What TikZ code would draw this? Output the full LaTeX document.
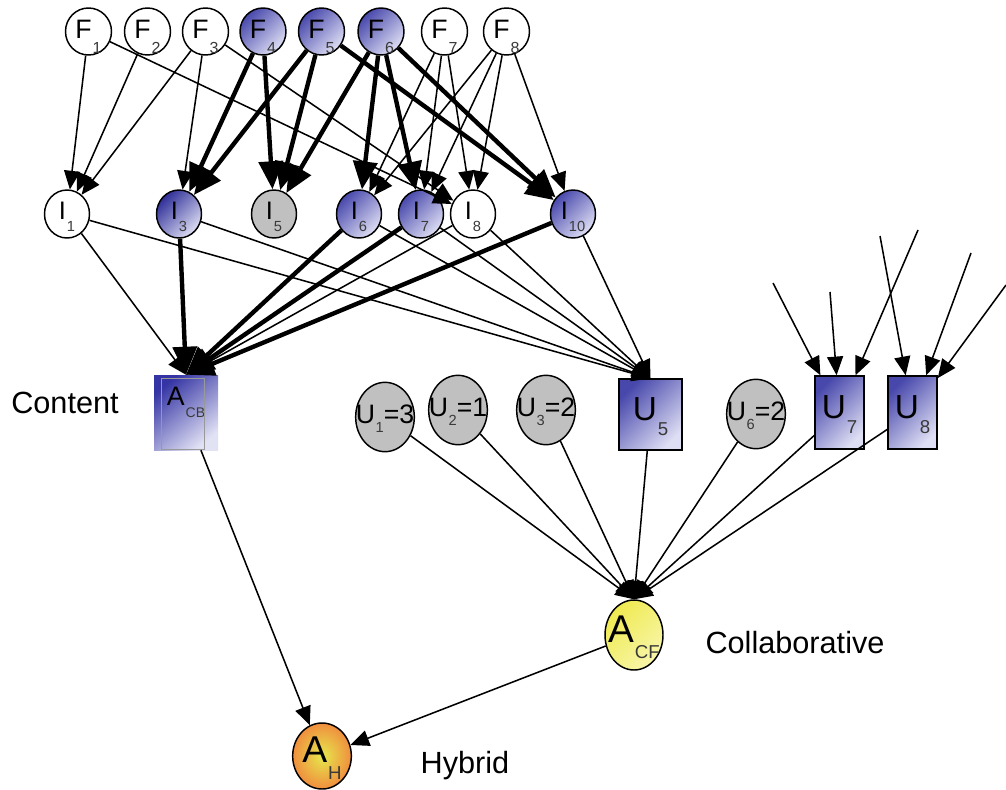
\documentclass[tikz,border=0pt]{standalone}
\usepackage{fontspec}
\setmainfont{Liberation Sans}
\usetikzlibrary{arrows.meta,shapes.geometric}
\definecolor{bdark}{HTML}{4848AC}
\definecolor{bdarker}{HTML}{2E2E98}
\definecolor{blight}{HTML}{DEDEF4}
\definecolor{ngray}{HTML}{C0C0C0}
\definecolor{subg}{HTML}{3A3A3A}
\definecolor{ydark}{HTML}{EFEA50}
\definecolor{ylight}{HTML}{F8F6AA}
\definecolor{oin}{HTML}{E6E84C}
\definecolor{oout}{HTML}{F08E3E}
\definecolor{acbd}{HTML}{3434A4}
\definecolor{acbl}{HTML}{E2E2F5}
\newcommand\nlab[6]{\makebox[0pt]{\raisebox{#6}[\height][\depth]{\fontsize{#1}{#1}\selectfont #4}\kern0.8pt\smash{\raisebox{-#3}{\fontsize{#2}{#2}\selectfont\color{subg}#5}}}}
\newcommand\ulab[3]{\makebox[0pt]{\raisebox{2.25pt}[\height][\depth]{\fontsize{20}{20}\selectfont #1}\kern0.5pt\smash{\raisebox{-4.5pt}{\fontsize{11}{11}\selectfont\color{subg}#2}}\raisebox{2.25pt}[\height][\depth]{\fontsize{20}{20}\selectfont #3}}}
\begin{document}
\begin{tikzpicture}[x=0.75pt,y=-0.75pt,
  base/.style={draw=black,line width=1.1pt,inner sep=0pt},
  fnode/.style={base,ellipse,minimum width=34.5pt,minimum height=35.25pt},
  inode/.style={base,ellipse,minimum width=33.75pt,minimum height=36pt},
  unode/.style={base,ellipse,minimum width=44pt,minimum height=52pt,fill=ngray},
  urect/.style={base,rectangle,minimum width=36.75pt,minimum height=54.75pt},
  wfill/.style={fill=white},
  gfill/.style={fill=ngray},
  bfill/.style={top color=bdark,bottom color=blight,shading angle=45},
  bdfill/.style={top color=bdarker,bottom color=blight,shading angle=45},
  thinarr/.style={line width=1.15pt,-{Triangle[length=14pt,width=12pt]}},
  thickarr/.style={line width=3.3pt,-{Triangle[length=21pt,width=18pt]}},
  lbl/.style={font=\fontsize{23}{23}\selectfont}]
\useasboundingbox (0,0) rectangle (1006,789);

% F row
\node[fnode,wfill] (f1) at (88.5,31.5) {\nlab{20}{12}{9.5pt}{F}{1}{1.5pt}};
\node[fnode,wfill] (f2) at (147.5,31.5) {\nlab{20}{12}{9.5pt}{F}{2}{1.5pt}};
\node[fnode,wfill] (f3) at (205.5,31.5) {\nlab{20}{12}{9.5pt}{F}{3}{1.5pt}};
\node[fnode,bfill] (f4) at (263,31.5) {\nlab{20}{12}{9.5pt}{F}{4}{1.5pt}};
\node[fnode,bfill] (f5) at (321.5,31.5) {\nlab{20}{12}{9.5pt}{F}{5}{1.5pt}};
\node[fnode,bfill] (f6) at (381,31.5) {\nlab{20}{12}{9.5pt}{F}{6}{1.5pt}};
\node[fnode,wfill] (f7) at (444.5,31.5) {\nlab{20}{12}{9.5pt}{F}{7}{1.5pt}};
\node[fnode,wfill] (f8) at (506.5,31.5) {\nlab{20}{12}{9.5pt}{F}{8}{1.5pt}};

% I row
\node[inode,wfill] (i1) at (67,214) {\nlab{19}{11}{6.4pt}{I}{1}{2.6pt}};
\node[inode,bdfill] (i3) at (179,214) {\nlab{19}{11}{6.4pt}{I}{3}{2.6pt}};
\node[inode,gfill] (i5) at (274,214) {\nlab{19}{11}{6.4pt}{I}{5}{2.6pt}};
\node[inode,bfill] (i6) at (359,214) {\nlab{19}{11}{6.4pt}{I}{6}{2.6pt}};
\node[inode,bfill] (i7) at (421,214) {\nlab{19}{11}{6.4pt}{I}{7}{2.6pt}};
\node[inode,wfill] (i8) at (473,214) {\nlab{19}{11}{6.4pt}{I}{8}{2.6pt}};
\node[inode,bfill] (i10) at (573,214) {\nlab{19}{11}{6.4pt}{I}{10}{2.6pt}};

% Content-based aggregate
\node[rectangle,inner sep=0pt,minimum width=48pt,minimum height=56.25pt,
  top color=acbd,bottom color=acbl,shading angle=40] (acb) at (186,412.5)
  {\nlab{20}{10.5}{-3pt}{A}{CB}{12pt}};
\draw[line width=0.6pt,draw=black!40] (161,378) rectangle (204,449);
\node[lbl] (lcont) at (65,402.5) {Content};

% users
\node[unode] (u1) at (385,417) {\ulab{U}{1}{=3}};
\node[unode] (u2) at (458,410) {\ulab{U}{2}{=1}};
\node[unode] (u3) at (546,410) {\ulab{U}{3}{=2}};
\node[base,rectangle,bfill,minimum width=47.25pt,minimum height=53pt] (u5) at (650.5,414.5) {\nlab{25}{14}{7.25pt}{U}{5}{4pt}};
\node[unode] (u6) at (756,414) {\ulab{U}{6}{=2}};
\node[urect,bfill] (u7) at (839.5,412.5) {\nlab{25}{14}{7.25pt}{U}{7}{4pt}};
\node[urect,bfill] (u8) at (912.5,412.5) {\nlab{25}{14}{7.25pt}{U}{8}{4pt}};

% aggregates
\node[base,ellipse,minimum width=43.5pt,minimum height=52.5pt,
  top color=ydark,bottom color=ylight,shading angle=45] (acf) at (634,635)
  {\nlab{29}{14}{8pt}{A}{CF}{4pt}};
\node[lbl] (lcoll) at (795,642.5) {Collaborative};
\node[base,ellipse,minimum width=44pt,minimum height=49.5pt,
  inner color=oin,outer color=oout] (ah) at (322,756)
  {\nlab{28}{14}{8.25pt}{A}{H}{4.5pt}};
\node[lbl] (lhyb) at (465,766) {Hybrid};

% loose ends of edges into U7 and U8
\coordinate (c1) at (773,283);
\coordinate (c2) at (830,292);
\coordinate (c3) at (918,230);
\coordinate (c4) at (880,236);
\coordinate (c5) at (971,253);
\coordinate (c6) at (1006,285);

% F -> I
\foreach \a/\b in {f1/i1,f1/i8,f2/i1,f3/i1,f3/i3,f3/i8,f7/i6,f7/i7,f7/i8,f8/i6,f8/i7,f8/i8,f8/i10}
  \draw[thinarr] (\a) -- (\b);
\foreach \a/\b in {f4/i3,f4/i5,f5/i3,f5/i5,f5/i10,f6/i5,f6/i6,f6/i7,f6/i10}
  \draw[thickarr] (\a) -- (\b);

% I -> A_CB
\foreach \a in {i1,i8} \draw[thinarr] (\a) -- (acb.north);
\foreach \a in {i3,i6,i7,i10} \draw[thickarr] (\a) -- (acb.north);

% I -> U5
\foreach \a in {i1,i3,i6,i7,i8,i10} \draw[thinarr] (\a) -- (u5.north);

% into U7, U8
\foreach \a in {c1,c2,c3} \draw[thinarr] (\a) -- (u7);
\foreach \a in {c4,c5,c6} \draw[thinarr] (\a) -- (u8);

% U -> A_CF
\foreach \a in {u1,u2,u3,u5,u6,u7,u8} \draw[thinarr] (\a) -- (acf.north);

% to hybrid
\draw[thinarr] (acb) -- (ah);
\draw[thinarr] (acf) -- (ah);
\end{tikzpicture}
\end{document}
